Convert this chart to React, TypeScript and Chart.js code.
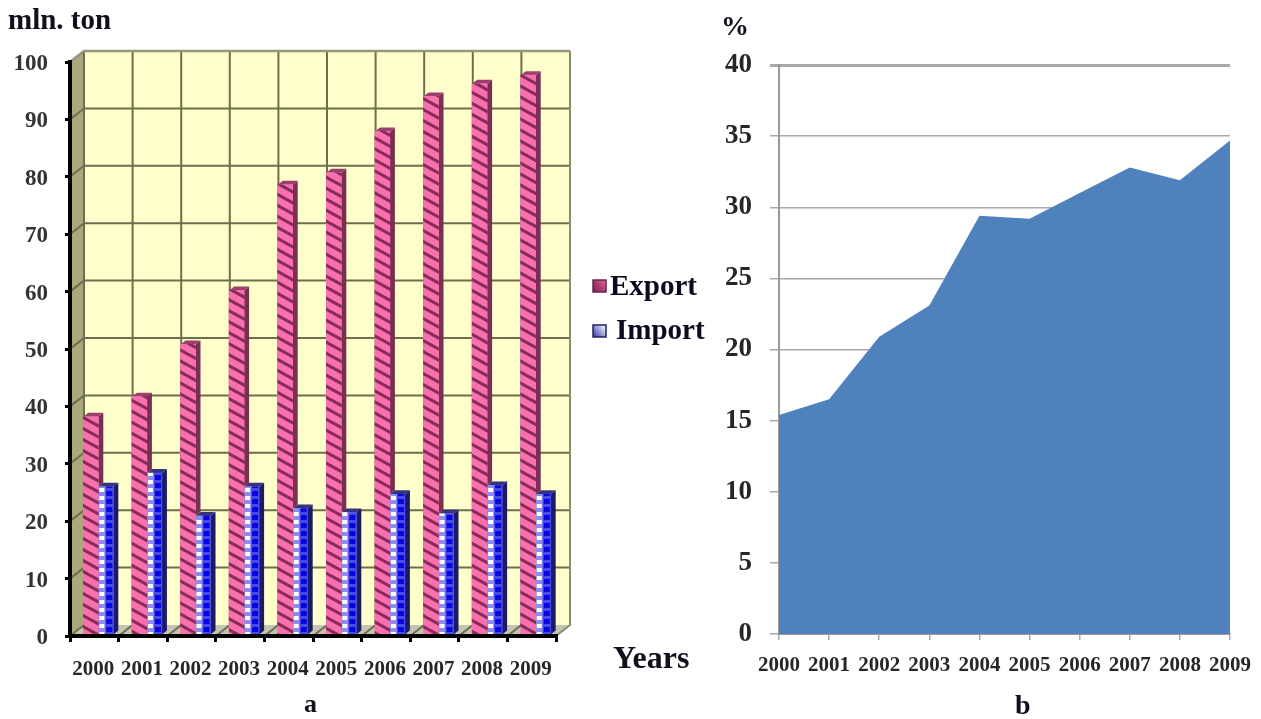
import React, { useEffect, useRef } from "react";
import { Chart, registerables } from "chart.js";

Chart.register(...registerables);

const years = ["2000", "2001", "2002", "2003", "2004", "2005", "2006", "2007", "2008", "2009"];
const exportValues = [38.2, 41.7, 50.8, 60.2, 78.6, 80.7, 87.9, 94, 96.2, 97.7];
const importValues = [26, 28.4, 20.9, 26, 22.2, 21.5, 24.7, 21.3, 26.2, 24.7];
const sharePercent = [15.4, 16.5, 20.9, 23.1, 29.4, 29.2, 31, 32.8, 31.9, 34.7];

const SERIF = "'Liberation Serif', serif";
const DX = 14;
const DY = 11;
const BAR_DX = 5;
const BAR_DY = 4;
const BAR_SHIFT = 4;

function stripePattern(): CanvasPattern {
  const c = document.createElement("canvas");
  c.width = 20;
  c.height = 11;
  const g = c.getContext("2d")!;
  g.fillStyle = "#f870ae";
  g.fillRect(0, 0, 20, 11);
  g.strokeStyle = "#8a2a58";
  g.lineWidth = 3;
  for (const o of [-11, 0, 11]) {
    g.beginPath();
    g.moveTo(-2, o - 1.1);
    g.lineTo(22, o + 12.1);
    g.stroke();
  }
  return g.createPattern(c, "repeat")!;
}

function checkTile(): HTMLCanvasElement {
  const c = document.createElement("canvas");
  c.width = 48;
  c.height = 8;
  const g = c.getContext("2d")!;
  g.fillStyle = "#4a4ae8";
  g.fillRect(0, 0, 48, 8);
  g.fillStyle = "#8c8cec";
  g.fillRect(0, 0, 7, 8);
  g.fillStyle = "#ffffff";
  g.fillRect(1, 0, 5, 4);
  g.fillStyle = "#0606e0";
  g.fillRect(8, 3, 6, 5);
  return c;
}

function checkFill(context: any): CanvasPattern | string {
  const g = context.chart.ctx as CanvasRenderingContext2D;
  const x = context.chart.scales.x;
  if (!x || context.dataIndex === undefined) return "#4a4ae8";
  const p = g.createPattern(checkTile(), "repeat")!;
  p.setTransform(new DOMMatrix().translate(x.getPixelForTick(context.dataIndex), 0));
  return p;
}

function poly(ctx: CanvasRenderingContext2D, pts: number[][], fill: string | CanvasPattern) {
  ctx.beginPath();
  pts.forEach((p, i) => (i ? ctx.lineTo(p[0], p[1]) : ctx.moveTo(p[0], p[1])));
  ctx.closePath();
  ctx.fillStyle = fill;
  ctx.fill();
}

const wallPlugin = {
  id: "wall3d",
  beforeDatasetsDraw(chart: any) {
    const { ctx, chartArea: a, scales } = chart;
    const { y } = scales;
    ctx.save();
    poly(ctx, [[a.left + DX, a.top - DY], [a.right + DX, a.top - DY], [a.right + DX, a.bottom - DY], [a.left + DX, a.bottom - DY]], "#ffffcc");
    poly(ctx, [[a.left, a.top], [a.left + DX, a.top - DY], [a.left + DX, a.bottom - DY], [a.left, a.bottom]], "#a9a97c");
    poly(ctx, [[a.left, a.bottom], [a.left + DX, a.bottom - DY], [a.right + DX, a.bottom - DY], [a.right, a.bottom]], "#c4c4b4");
    ctx.strokeStyle = "#6e6e4e";
    ctx.lineWidth = 2;
    for (const t of y.ticks) {
      if (t.value === 100 || t.value === 0) continue;
      const py = y.getPixelForValue(t.value);
      ctx.beginPath();
      ctx.moveTo(a.left, py);
      ctx.lineTo(a.left + DX, py - DY);
      ctx.lineTo(a.right + DX, py - DY);
      ctx.stroke();
    }
    const n = years.length;
    for (let i = 0; i <= n; i++) {
      const px = a.left + ((a.right - a.left) * i) / n;
      ctx.strokeStyle = i === n ? "#8c8c74" : "#6e6e4e";
      ctx.beginPath();
      ctx.moveTo(px + DX, a.top - DY);
      ctx.lineTo(px + DX, a.bottom - DY);
      ctx.lineTo(px, a.bottom);
      ctx.stroke();
    }
    ctx.strokeStyle = "#96967e";
    ctx.lineWidth = 2.5;
    ctx.beginPath();
    ctx.moveTo(a.left, a.top);
    ctx.lineTo(a.left + DX, a.top - DY);
    ctx.lineTo(a.right + DX, a.top - DY);
    ctx.stroke();
    ctx.restore();
  },
  beforeDatasetDraw(chart: any, args: any) {
    const { ctx } = chart;
    const meta = chart.getDatasetMeta(args.index);
    const neighbour = args.index === 0 ? chart.getDatasetMeta(1) : null;
    const top = args.index === 0 ? "#9c3f6e" : "#33337f";
    const side = args.index === 0 ? "#7a2e52" : "#1a1a66";
    ctx.save();
    ctx.translate(BAR_SHIFT, 0);
    meta.data.forEach((bar: any, i: number) => {
      const p = bar.getProps(["x", "y", "base", "width"], true);
      const l = p.x - p.width / 2;
      const r = p.x + p.width / 2;
      // Import is painted first, so Export's side face stops where Import's top begins.
      const foot = neighbour ? neighbour.data[i].getProps(["y"], true).y : p.base;
      poly(ctx, [[r, p.y], [r + BAR_DX, p.y - BAR_DY], [r + BAR_DX, foot - BAR_DY], [r, foot]], side);
      poly(ctx, [[l, p.y], [l + BAR_DX, p.y - BAR_DY], [r + BAR_DX, p.y - BAR_DY], [r, p.y]], top);
    });
  },
  afterDatasetDraw(chart: any) {
    chart.ctx.restore();
  },
  afterDraw(chart: any) {
    const { ctx, data } = chart;
    const pos = [
      { sx: 593, sy: 280, tx: 610, ty: 295 },
      { sx: 593, sy: 325, tx: 616, ty: 339 },
    ];
    const fills = [
      { from: "#e0609c", to: "#802050", edge: "#5e2a4a" },
      { from: "#ffffff", to: "#4040a8", edge: "#20205e" },
    ];
    ctx.save();
    data.datasets.forEach((ds: any, i: number) => {
      const g = ctx.createLinearGradient(pos[i].sx, pos[i].sy + 10, pos[i].sx + 12, pos[i].sy);
      g.addColorStop(0, fills[i].to);
      g.addColorStop(1, fills[i].from);
      ctx.fillStyle = g;
      ctx.fillRect(pos[i].sx, pos[i].sy, 13, 12);
      ctx.strokeStyle = fills[i].edge;
      ctx.lineWidth = 1.5;
      ctx.strokeRect(pos[i].sx, pos[i].sy, 13, 12);
      ctx.fillStyle = "#0a0a20";
      ctx.font = `bold 29px ${SERIF}`;
      ctx.textAlign = "left";
      ctx.textBaseline = "alphabetic";
      ctx.fillText(ds.label, pos[i].tx, pos[i].ty);
    });
    ctx.restore();
  },
};

const labelStyle = (left: number, top: number, size: number): React.CSSProperties => ({
  position: "absolute",
  left,
  top,
  font: `bold ${size}px ${SERIF}`,
  color: "#10101c",
  lineHeight: 1,
  whiteSpace: "nowrap",
});

export default function App() {
  const leftRef = useRef<HTMLCanvasElement>(null);
  const rightRef = useRef<HTMLCanvasElement>(null);

  useEffect(() => {
    const left = new Chart(leftRef.current!, {
      type: "bar",
      data: {
        labels: years,
        datasets: [
          { label: "Export", data: exportValues, backgroundColor: stripePattern(), barThickness: 15 },
          { label: "Import", data: importValues, backgroundColor: checkFill, barThickness: 15 },
        ],
      },
      plugins: [wallPlugin],
      options: {
        responsive: false,
        animation: false,
        layout: { autoPadding: false, padding: { left: 0, top: 62, right: 164, bottom: 0 } },
        plugins: { legend: { display: false }, tooltip: { enabled: false }, title: { display: false } },
        scales: {
          x: {
            afterFit: (s: any) => { s.height = 83; s.paddingLeft = 0; s.paddingRight = 0; },
            grid: { drawOnChartArea: false, drawTicks: true, tickLength: 6, color: "#000", lineWidth: 3, z: 1 },
            border: { color: "#000", width: 4, z: 1 },
            ticks: { color: "#262626", font: { family: SERIF, weight: "bold", size: 21 }, padding: 15, maxRotation: 0, autoSkip: false, labelOffset: -1 },
          },
          y: {
            min: 0,
            max: 100,
            afterFit: (s: any) => { s.width = 70; },
            grid: { drawOnChartArea: false, drawTicks: true, tickLength: 5, color: "#000", lineWidth: 3, z: 1 },
            border: { color: "#000", width: 4, z: 1 },
            ticks: { stepSize: 10, color: "#333", font: { family: SERIF, weight: "bold", size: 23 }, padding: 17, labelOffset: 2 },
          },
        },
      },
    } as any);

    const right = new Chart(rightRef.current!, {
      type: "line",
      data: {
        labels: years,
        datasets: [
          { label: "%", data: sharePercent, fill: "origin", backgroundColor: "#4f81bd", borderWidth: 0, pointRadius: 0, tension: 0 },
        ],
      },
      options: {
        responsive: false,
        animation: false,
        layout: { autoPadding: false, padding: { left: 0, top: 65, right: 31, bottom: 0 } },
        plugins: { legend: { display: false }, tooltip: { enabled: false }, title: { display: false } },
        scales: {
          x: {
            offset: false,
            afterFit: (s: any) => { s.height = 85; s.paddingLeft = 0; s.paddingRight = 0; },
            grid: { drawOnChartArea: false, drawTicks: true, tickLength: 6, color: "#aaa", lineWidth: 1.5 },
            border: { color: "#999", width: 2 },
            ticks: { color: "#262626", font: { family: SERIF, weight: "bold", size: 21 }, padding: 13, maxRotation: 0, autoSkip: false },
          },
          y: {
            min: 0,
            max: 40,
            afterFit: (s: any) => { s.width = 59; },
            grid: {
              drawTicks: true,
              tickLength: 9,
              color: "#a8a8a8",
              lineWidth: (c: any) => (c.tick && c.tick.value === 40 ? 3 : 1.5),
            },
            border: { color: "#999", width: 2 },
            ticks: { stepSize: 5, color: "#262626", font: { family: SERIF, weight: "bold", size: 27 }, padding: 18 },
          },
        },
      },
    } as any);

    return () => {
      left.destroy();
      right.destroy();
    };
  }, []);

  return (
    <div style={{ position: "absolute", left: 0, top: 0, width: 1261, height: 719, background: "#fff", overflow: "hidden" }}>
      <canvas ref={leftRef} width={720} height={719} style={{ position: "absolute", left: 0, top: 0 }} />
      <canvas ref={rightRef} width={541} height={719} style={{ position: "absolute", left: 720, top: 0 }} />
      <div style={labelStyle(8, 5, 29)}>mln. ton</div>
      <div style={labelStyle(721, 12, 28)}>%</div>
      <div style={labelStyle(613, 641, 32)}>Years</div>
      <div style={labelStyle(304, 691, 26)}>a</div>
      <div style={labelStyle(1015, 691, 28)}>b</div>
    </div>
  );
}
